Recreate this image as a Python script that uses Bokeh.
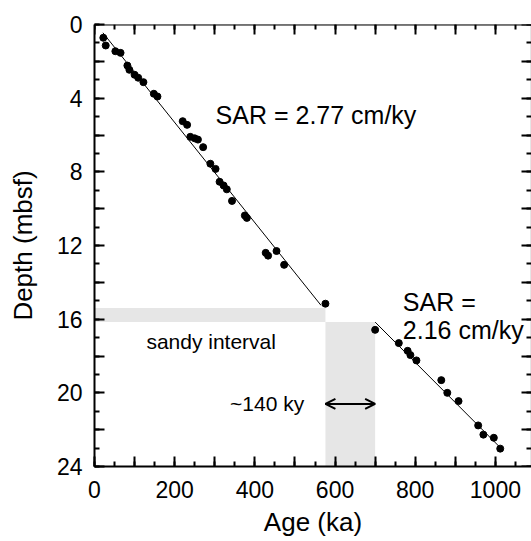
from bokeh.plotting import figure
from bokeh.models import (Range1d, LinearAxis, SingleIntervalTicker, CustomJSTickFormatter,
                          Label, Arrow, OpenHead)
from bokeh.embed import file_html
from bokeh.resources import INLINE

# ---- data ----
age_ka = [22, 28, 52, 65, 82, 87, 100, 109, 122, 148, 157,
          220, 231, 239, 250, 258, 271, 289, 302, 312, 322, 330, 343, 375, 380,
          427, 433, 454, 473, 576,
          700, 759, 781, 788, 803, 865, 880, 908, 957, 970, 996, 1012]
depth_mbsf = [0.72, 1.14, 1.45, 1.54, 2.23, 2.46, 2.73, 2.89, 3.13, 3.76, 3.91,
              5.25, 5.45, 6.10, 6.18, 6.25, 6.66, 7.56, 7.84, 8.54, 8.74, 8.95, 9.58, 10.37, 10.50,
              12.40, 12.55, 12.30, 13.05, 15.16,
              16.58, 17.30, 17.72, 17.95, 18.24, 19.31, 20.00, 20.45, 21.77, 22.27, 22.44, 23.03]

fit1_age = [21, 565]
fit1_depth = [0.45, 15.25]
fit2_age = [700, 1011]
fit2_depth = [16.16, 22.95]

sandy_age = [0, 576]          # horizontal sandy band (age span)
sandy_depth = [15.4, 16.15]   # depth span
gap_age = [576, 700]          # hiatus (age span)
gap_depth = [16.15, 24]

X_MAX = 1090
Y_MAX = 24

FONT = "Liberation Sans"

p = figure(width=531, height=541, output_backend="svg", toolbar_location=None,
           x_range=Range1d(0, X_MAX), y_range=Range1d(Y_MAX, 0),
           min_border_left=94, min_border_top=24, min_border_bottom=75, min_border_right=0,
           x_axis_location=None, y_axis_location=None)
p.xgrid.visible = False
p.ygrid.visible = False

def style_axis(ax, show_line=True):
    ax.axis_line_width = 2
    if not show_line:
        ax.axis_line_alpha = 0
    ax.major_tick_in = 10
    ax.major_tick_out = 0
    ax.minor_tick_in = 5
    ax.minor_tick_out = 0
    ax.major_tick_line_width = 2
    ax.minor_tick_line_width = 2
    ax.major_label_text_font = FONT
    ax.major_label_text_color = "black"
    ax.axis_label_text_font = FONT
    ax.axis_label_text_font_style = "normal"
    ax.axis_label_text_color = "black"

def xt():
    return SingleIntervalTicker(interval=100, num_minor_ticks=2)

def yt():
    return SingleIntervalTicker(interval=2, num_minor_ticks=2)

x_fmt = CustomJSTickFormatter(code="var t=Math.round(tick); return (t % 200 === 0) ? String(t) : '';")
y_fmt = CustomJSTickFormatter(code="var t=Math.round(tick); return (t % 4 === 0) ? String(t) : '';")

bottom = LinearAxis(axis_label="Age (ka)", ticker=xt(), formatter=x_fmt)
style_axis(bottom)
bottom.major_label_text_font_size = "23px"
bottom.major_label_standoff = 14
bottom.axis_label_text_font_size = "26px"
bottom.axis_label_standoff = 6
p.add_layout(bottom, "below")

left = LinearAxis(axis_label="Depth (mbsf)", ticker=yt(), formatter=y_fmt)
style_axis(left)
left.major_label_text_font_size = "23px"
left.major_label_standoff = 12
left.axis_label_text_font_size = "26px"
left.axis_label_standoff = 16
p.add_layout(left, "left")

top = LinearAxis(ticker=xt(), fixed_location=0, major_label_text_font_size="0px")
style_axis(top)
p.add_layout(top, "above")

right = LinearAxis(ticker=yt(), fixed_location=X_MAX, major_label_text_font_size="0px")
style_axis(right, show_line=False)
p.add_layout(right, "right")

# grey bands
GREY = "#e6e6e6"
p.quad(left=[sandy_age[0]], right=[sandy_age[1]], top=[sandy_depth[0]], bottom=[sandy_depth[1]],
       fill_color=GREY, line_color=None)
p.quad(left=[gap_age[0]], right=[gap_age[1]], top=[gap_depth[0]], bottom=[gap_depth[1]],
       fill_color=GREY, line_color=None)

# fit lines
p.line(fit1_age, fit1_depth, line_color="black", line_width=1)
p.line(fit2_age, fit2_depth, line_color="black", line_width=1)

# points
p.scatter(age_ka, depth_mbsf, size=7, fill_color="black", line_color="black", marker="circle")

# double arrow for hiatus
p.add_layout(Arrow(start=OpenHead(size=10, line_width=2), end=OpenHead(size=10, line_width=2),
                   x_start=gap_age[0], x_end=gap_age[1], y_start=20.6, y_end=20.6,
                   line_width=2, line_color="black"))

def lab(x, y, t, size, align="left"):
    p.add_layout(Label(x=x, y=y, text=t, text_font=FONT, text_font_size=size,
                       text_align=align, text_baseline="middle", text_color="black"))

lab(302, 4.89, "SAR = 2.77 cm/ky", "25px")
lab(769, 15.07, "SAR =", "25px")
lab(769, 16.6, "2.16 cm/ky", "25px")
lab(291, 17.2, "sandy interval", "21px", "center")
lab(523, 20.58, "~140 ky", "21px", "right")

open("out.html", "w").write(file_html(p, INLINE))
